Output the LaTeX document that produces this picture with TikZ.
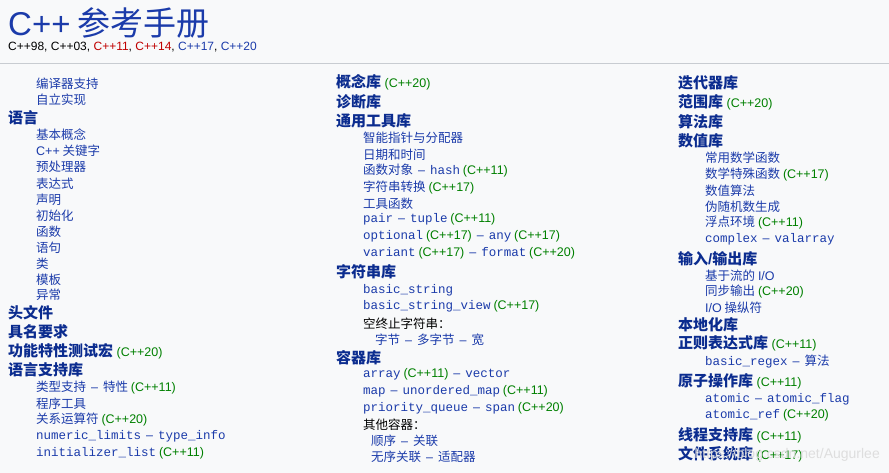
\documentclass[tikz,border=0pt]{standalone}
\usepackage{fontspec}
\setmainfont{Noto Sans CJK SC}
\newfontfamily\lib{Liberation Sans}
\setmonofont{Liberation Mono}
\definecolor{lk}{HTML}{1B3BAA}
\definecolor{hd}{HTML}{0B2C8F}
\definecolor{vg}{HTML}{008000}
\definecolor{rd}{HTML}{C00000}
\definecolor{bg}{HTML}{F8F9FA}
\newcommand\ver[1]{{\lib\mdseries\fontsize{12.5}{13}\selectfont\color{vg}(C++#1)}}
\newcommand\mt[1]{{\ttfamily #1}}
\newcommand\ds{\hspace{5pt}{\lib\mdseries –}\hspace{5pt}}
\tikzset{
 item/.style={anchor=west,inner sep=0,text=lk,font=\fontsize{12.5}{13}\selectfont},
 head/.style={anchor=west,inner sep=0,text=hd,font=\fontsize{15}{16}\selectfont\bfseries},
 plain/.style={item,text=black}
}
\begin{document}
\begin{tikzpicture}[x=1pt,y=-1pt]
\fill[bg] (0,0) rectangle (889,473);
\useasboundingbox (0,0) rectangle (889,473);
\node[anchor=west,inner sep=0,text=lk,font=\fontsize{33}{34}\selectfont] (title) at (8,23) {{\lib C++} 参考手册};
\node[anchor=west,inner sep=0,font=\lib\fontsize{12}{13}\selectfont] (vers) at (8,47) {C++98, C++03, \textcolor{rd}{C++11}, \textcolor{rd}{C++14}, \textcolor{lk}{C++17}, \textcolor{lk}{C++20}};
\coordinate (sl) at (0,63); \coordinate (sr) at (889,63);
\draw[color={rgb,255:red,200;green,204;blue,209}] (sl) -- (sr);
\begin{scope}[yshift=-1.5pt]
% column 1
\node[item] (a1) at (36,82) {编译器支持};
\node[item] (a2) at (36,98) {自立实现};
\node[head] (a3) at (8,116) {语言};
\node[item] (a4) at (36,133) {基本概念};
\node[item] (a5) at (36,149) {{\lib C++} 关键字};
\node[item] (a6) at (36,165) {预处理器};
\node[item] (a7) at (36,182) {表达式};
\node[item] (a8) at (36,198) {声明};
\node[item] (a9) at (36,214) {初始化};
\node[item] (a10) at (36,230) {函数};
\node[item] (a11) at (36,246) {语句};
\node[item] (a12) at (36,262) {类};
\node[item] (a13) at (36,278) {模板};
\node[item] (a14) at (36,293) {异常};
\node[head] (a15) at (8,311) {头文件};
\node[head] (a16) at (8,330) {具名要求};
\node[head] (a17) at (8,350) {功能特性测试宏 \ver{20}};
\node[head] (a18) at (8,368) {语言支持库};
\node[item] (a19) at (36,386) {类型支持\ds 特性 \ver{11}};
\node[item] (a20) at (36,402) {程序工具};
\node[item] (a21) at (36,418) {关系运算符 \ver{20}};
\node[item] (a22) at (36,435) {\mt{numeric\_limits}\ds\mt{type\_info}};
\node[item] (a23) at (36,452) {\mt{initializer\_list} \ver{11}};
% column 2
\node[head] (b1) at (336,81) {概念库 \ver{20}};
\node[head] (b2) at (336,100) {诊断库};
\node[head] (b3) at (336,119) {通用工具库};
\node[item] (b4) at (363,136) {智能指针与分配器};
\node[item] (b5) at (363,153) {日期和时间};
\node[item] (b6) at (363,169) {函数对象\ds\mt{hash} \ver{11}};
\node[item] (b7) at (363,186) {字符串转换 \ver{17}};
\node[item] (b8) at (363,202) {工具函数};
\node[item] (b9) at (363,218) {\mt{pair}\ds\mt{tuple} \ver{11}};
\node[item] (b10) at (363,235) {\mt{optional} \ver{17}\ds\mt{any} \ver{17}};
\node[item] (b11) at (363,252) {\mt{variant} \ver{17}\ds\mt{format} \ver{20}};
\node[head] (b12) at (336,270) {字符串库};
\node[item] (b13) at (363,289) {\mt{basic\_string}};
\node[item] (b14) at (363,305) {\mt{basic\_string\_view} \ver{17}};
\node[plain] (b15) at (363,322) {空终止字符串：};
\node[item] (b16) at (375,338) {字节\ds 多字节\ds 宽};
\node[head] (b17) at (336,356) {容器库};
\node[item] (b18) at (363,373) {\mt{array} \ver{11}\ds\mt{vector}};
\node[item] (b19) at (363,390) {\mt{map}\ds\mt{unordered\_map} \ver{11}};
\node[item] (b20) at (363,407) {\mt{priority\_queue}\ds\mt{span} \ver{20}};
\node[plain] (b21) at (363,423) {其他容器：};
\node[item] (b22) at (371,439) {顺序\ds 关联};
\node[item] (b23) at (371,455) {无序关联\ds 适配器};
% column 3
\node[head] (c1) at (678,81) {迭代器库};
\node[head] (c2) at (678,101) {范围库 \ver{20}};
\node[head] (c3) at (678,120) {算法库};
\node[head] (c4) at (678,139) {数值库};
\node[item] (c5) at (705,156) {常用数学函数};
\node[item] (c6) at (705,173) {数学特殊函数 \ver{17}};
\node[item] (c7) at (705,189) {数值算法};
\node[item] (c8) at (705,205) {伪随机数生成};
\node[item] (c9) at (705,221) {浮点环境 \ver{11}};
\node[item] (c10) at (705,238) {\mt{complex}\ds\mt{valarray}};
\node[head] (c11) at (678,257) {输入{\lib/}输出库};
\node[item] (c12) at (705,274) {基于流的 {\lib I/O}};
\node[item] (c13) at (705,290) {同步输出 \ver{20}};
\node[item] (c14) at (705,306) {{\lib I/O} 操纵符};
\node[head] (c15) at (678,323) {本地化库};
\node[head] (c16) at (678,342) {正则表达式库 \ver{11}};
\node[item] (c17) at (705,360) {\mt{basic\_regex}\ds 算法};
\node[head] (c18) at (678,380) {原子操作库 \ver{11}};
\node[item] (c19) at (705,398) {\mt{atomic}\ds\mt{atomic\_flag}};
\node[item] (c20) at (705,414) {\mt{atomic\_ref} \ver{20}};
\node[head] (c21) at (678,434) {线程支持库 \ver{11}};
\node[head] (c22) at (678,453) {文件系统库 \ver{17}};
\end{scope}
\node[anchor=east,inner sep=0,text={rgb,255:red,222;green,222;blue,222},font=\lib\fontsize{14}{14}\selectfont] (wm) at (880,455) {https://blog.csdn.net/Augurlee};
\end{tikzpicture}
\end{document}
